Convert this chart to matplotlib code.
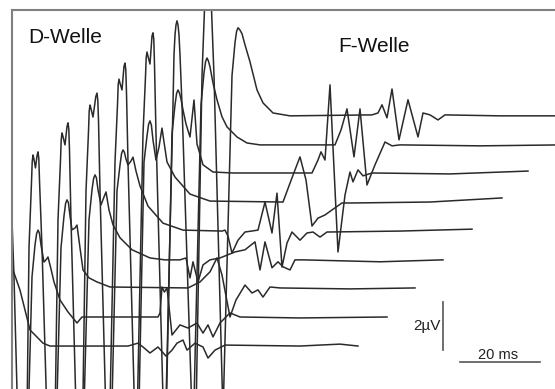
import matplotlib
matplotlib.use('Agg')
import matplotlib.pyplot as plt

plt.rcParams['font.family'] = ['Liberation Sans', 'DejaVu Sans']

# each trace: local time (ms) and amplitude (uV, relative to its own baseline)
tr0_t = [1.5, 2.75, 3.38, 3.55, 3.75, 3.95, 4.25, 4.75, 5.0, 5.18, 5.38, 6.0, 8.25, 10.5, 11.25, 11.65, 12.0, 12.35,
         13.5, 15.25, 17.75, 21.0, 22.75,
         42.25, 44.75, 46.0, 47.75, 49.75, 51.75, 53.25, 54.5, 56.0, 57.0, 59.0, 61.0, 62.25, 64.0, 66.5,
         85.25, 95.25, 99.75]
tr0_v = [-12.5, 1.67, 4.58, 5.25, 5.42, 5.3, 4.92, 5.5, 5.62, 5.3, 4.58, 1.67, -12.5, 1.67, 3.0, 3.47, 3.62, 3.5,
         3.17, 2.33, 0.67, 0.12, 0.0,
         0.0, 0.12, -0.04, -0.29, -0.04, -0.42, -0.17, 0.12, 0.25, -0.17, 0.12, -0.04, -0.5, -0.17, 0.04,
         0.0, 0.08, 0.0]

tr1_t = [1.5, 2.75, 3.38, 3.55, 3.75, 3.95, 4.25, 4.75, 5.0, 5.18, 5.38, 6.0, 8.25, 10.5, 11.25, 11.65, 12.0, 12.35,
         12.75, 13.5, 14.0, 14.5, 15.25, 16.0, 17.5, 19.5, 21.75, 23.0,
         42.0, 42.5, 43.0, 43.6, 44.25, 45.5, 47.5, 49.5, 51.75, 53.25, 54.5, 55.75, 57.5, 60.0, 62.5, 77.5, 99.25]
tr1_v = [-12.5, 1.67, 4.58, 5.25, 5.42, 5.3, 4.92, 5.5, 5.62, 5.3, 4.58, 1.67, -12.5, 1.67, 3.0, 3.47, 3.62, 3.5,
         3.0, 2.29, 2.38, 2.5, 2.0, 1.46, 0.71, 0.21, -0.25, 0.0,
         0.0, 0.17, 1.25, 1.04, 1.21, -0.75, -0.33, -0.46, -0.25, -0.67, -0.33, -0.83, -0.25, 0.17, 0.0, -0.04, 0.0]

tr2_t = [1.5, 2.5, 3.12, 3.3, 3.5, 3.7, 4.12, 4.5, 4.75, 4.95, 5.12, 5.75, 8.25, 10.5, 11.25, 11.65, 12.0, 12.35,
         12.75, 13.25, 14.0, 14.5, 15.25, 16.0, 17.5, 19.5, 22.75,
         42.25, 45.25, 47.75, 49.5, 50.75, 52.75, 54.25, 56.5, 58.25, 59.75, 61.0, 62.75, 65.25, 82.75, 99.0]
tr2_v = [-12.5, 1.67, 4.38, 5.25, 5.54, 5.4, 5.0, 5.5, 5.67, 5.4, 4.5, 1.67, -12.5, 1.67, 3.0, 3.52, 3.67, 3.55,
         3.0, 2.42, 2.5, 2.62, 1.67, 0.75, 0.42, 0.25, 0.04,
         0.0, 0.25, 0.67, 1.25, 0.54, -1.21, -0.5, 0.12, -0.21, -0.08, -0.38, 0.04, 0.0, -0.04, 0.0]

tr3_t = [1.5, 2.75, 3.38, 3.55, 3.75, 3.98, 4.5, 5.0, 5.25, 5.45, 5.62, 6.0, 8.25, 10.5, 11.25, 11.65, 12.0, 12.35,
         12.75, 13.5, 14.25, 14.75, 15.5, 16.5, 18.25, 21.25, 25.75, 29.5,
         33.25, 34.75, 35.75, 36.5, 37.75, 39.0, 40.75, 43.25, 47.0, 49.5, 52.0, 53.25, 54.5, 56.25, 57.75,
         59.0, 60.75, 62.0, 64.0, 83.25, 99.0]
tr3_v = [-12.5, 1.67, 4.17, 5.0, 5.29, 5.15, 4.79, 5.55, 5.71, 5.45, 4.58, 1.67, -12.5, 1.67, 2.92, 3.39, 3.54, 3.42,
         2.92, 2.29, 2.62, 2.83, 2.08, 1.46, 0.92, 0.42, 0.08, 0.0,
         0.0, 0.08, -0.75, -0.08, -0.92, -0.21, 0.0, 0.08, 0.33, 0.42, 0.75, -0.42, 0.75, -0.33, -0.08,
         -0.29, -0.42, 0.0, 0.0, -0.08, 0.0]

tr4_t = [1.5, 2.75, 3.38, 3.55, 3.75, 4.0, 4.5, 5.2, 5.5, 5.7, 5.88, 6.25, 8.5, 10.5, 11.25, 11.65, 12.0, 12.35,
         12.75, 13.25, 14.0, 14.5, 15.25, 16.25, 18.25, 22.0, 27.0,
         36.75, 37.5, 38.25, 39.25, 40.75, 42.5, 45.75, 47.5, 49.25, 50.5, 51.75, 53.0, 54.25, 56.25, 58.0,
         59.5, 61.25, 63.0, 81.25, 99.25]
tr4_v = [-12.5, 1.67, 4.17, 5.0, 5.25, 5.1, 4.75, 5.6, 5.75, 5.45, 4.58, 1.67, -12.5, 1.67, 2.75, 3.24, 3.38, 3.28,
         3.0, 2.75, 2.92, 3.08, 2.5, 1.88, 1.04, 0.33, 0.04,
         0.0, 0.04, -0.21, -0.92, -0.38, -0.04, 0.04, 1.21, -0.08, 1.58, -1.5, -0.5, -0.04, -0.38, -0.08,
         -0.04, -0.25, -0.04, 0.0, 0.08]

tr5_t = [1.5, 3.25, 3.88, 4.05, 4.25, 4.5, 5.0, 5.5, 5.75, 5.95, 6.12, 6.5, 8.75, 10.5, 11.25, 11.65, 12.0, 12.35,
         12.75, 13.5, 14.25, 15.0, 15.5, 16.25, 18.25, 22.0, 27.0,
         45.25, 47.75, 49.5, 51.0, 52.5, 54.0, 55.75, 57.5, 60.0, 62.5, 82.0, 100.0]
tr5_v = [-12.5, 1.67, 4.08, 4.9, 5.12, 4.95, 4.67, 5.65, 5.79, 5.5, 4.58, 1.67, -12.5, 1.67, 2.75, 3.24, 3.38, 3.2,
         2.58, 1.75, 2.29, 3.08, 2.5, 1.67, 1.04, 0.33, 0.04,
         0.0, 1.12, 1.88, 0.92, -1.0, -0.67, -0.54, -0.33, -0.04, -0.04, 0.0, 0.17]

tr6_t = [1.5, 3.25, 3.88, 4.05, 4.25, 4.5, 5.0, 5.5, 5.75, 5.95, 6.12, 6.5, 8.75, 10.5, 11.25, 11.65, 12.0, 12.35,
         12.75, 13.25, 14.0, 15.0, 16.0, 16.75, 18.25, 20.75, 25.75,
         45.5, 47.0, 47.75, 48.75, 50.0, 52.0, 53.75, 55.0, 55.75, 57.0, 58.25, 60.5, 80.0, 99.5]
tr6_v = [-12.5, 1.67, 4.08, 4.85, 5.08, 4.9, 4.58, 5.75, 5.88, 5.6, 4.58, 1.67, -12.5, 1.67, 2.88, 3.36, 3.5, 3.38,
         3.12, 2.67, 2.08, 1.54, 3.08, 1.25, 0.38, 0.08, 0.04,
         0.04, 0.58, 0.92, 0.58, 3.71, -3.25, -0.88, 0.08, -0.33, 0.17, -0.08, 0.04, 0.0, 0.12]

tr7_t = [1.5, 3.5, 3.75, 4.0, 4.25, 4.5, 4.75, 5.0, 5.25, 5.75, 8.5, 10.5, 11.25, 11.65, 12.0, 12.35,
         12.75, 13.5, 14.5, 15.75, 17.0, 19.5, 22.0, 25.25,
         44.0, 45.5, 47.0, 48.75, 50.25, 52.0, 54.0, 56.5, 58.25, 60.25, 80.25, 100.5]
tr7_v = [-12.5, 1.67, 3.75, 4.58, 5.0, 5.17, 5.0, 4.58, 3.75, 1.67, -12.5, 1.67, 3.0, 3.47, 3.62, 3.5,
         3.25, 2.58, 1.88, 1.17, 0.75, 0.33, 0.08, 0.0,
         0.0, 0.62, 1.5, -0.5, 1.5, -1.67, -0.83, 0.12, -0.04, 0.0, -0.04, 0.0]

tr8_t = [1.5, 3.0, 3.75, 4.5, 5.25, 6.0, 8.25, 10.5, 11.25, 11.65, 12.0, 12.4,
         13.0, 13.75, 15.0, 16.75, 18.25, 20.75, 25.0,
         45.5, 47.0, 48.0, 49.25, 50.5, 52.25, 54.5, 57.0, 58.25, 60.0, 62.0, 63.75, 77.5, 100.0]
tr8_v = [-12.5, 1.67, 5.0, 6.88, 5.0, 1.67, -12.5, 1.67, 3.05, 3.52, 3.67, 3.6,
         3.42, 2.96, 2.25, 1.08, 0.54, 0.12, 0.0,
         0.04, 0.12, 0.46, -0.08, 1.12, -1.0, 0.67, -0.88, 0.12, 0.04, -0.17, 0.04, 0.0, 0.0]

traces_t = [tr0_t, tr1_t, tr2_t, tr3_t, tr4_t, tr5_t, tr6_t, tr7_t, tr8_t]
traces_v = [tr0_v, tr1_v, tr2_v, tr3_v, tr4_v, tr5_v, tr6_v, tr7_v, tr8_v]

# cascade: time shift (ms) and vertical offset (uV) of each trace
shift_ms = [-13.25, -5.5, 1.75, 8.75, 15.75, 22.5, 29.5, 36.75, 44.5]
offset_uv = [1.79, 3.0, 4.21, 5.38, 6.58, 7.79, 8.96, 10.17, 11.38]

fig = plt.figure(figsize=(5.55, 3.89), dpi=100)
ax = fig.add_axes([12 / 555, 0, 543 / 555, 379 / 389])

for t, v, dt, dy in zip(traces_t, traces_v, shift_ms, offset_uv):
    ax.plot([x + dt for x in t], [y + dy for y in v], color='#2a2a2a', lw=1.1,
            solid_joinstyle='round')

ax.set_xlim(0, 135.75)
ax.set_ylim(0, 15.79)
ax.set_xticks([])
ax.set_yticks([])
for side in ['bottom', 'right']:
    ax.spines[side].set_visible(False)
for side in ['top', 'left']:
    ax.spines[side].set_color('#808080')
    ax.spines[side].set_linewidth(1.5)

# scale bars
ax.plot([107.75, 107.75], [1.625, 3.625], color='#555555', lw=1.2)
ax.plot([112, 132], [1.125, 1.125], color='#555555', lw=1.2)

fig.text(28 / 555, 1 - 43 / 389, 'D-Welle', fontsize=15, va='baseline', ha='left', color='#111111')
fig.text(338 / 555, 1 - 52 / 389, 'F-Welle', fontsize=15, va='baseline', ha='left', color='#111111')
fig.text(441 / 555, 1 - 330 / 389, '2µV', fontsize=11, va='baseline', ha='right', color='#222222')
fig.text(498 / 555, 1 - 359 / 389, '20 ms', fontsize=10.5, va='baseline', ha='center', color='#222222')

fig.savefig('out.png', dpi=100)
